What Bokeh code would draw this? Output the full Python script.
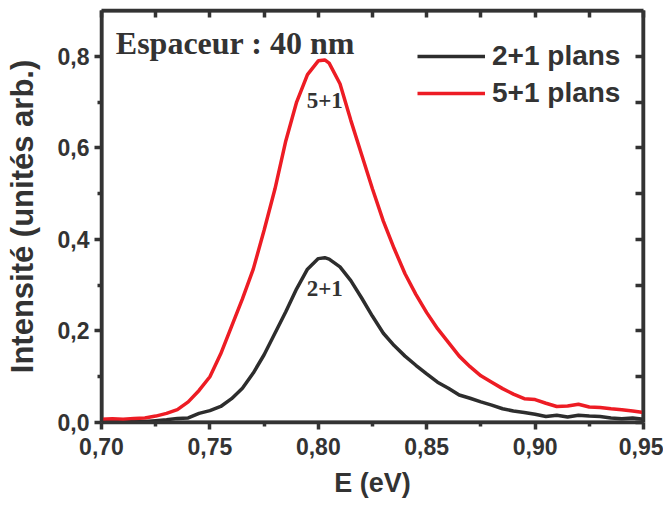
from bokeh.plotting import figure
from bokeh.models import (Range1d, LinearAxis, FixedTicker, CustomJSTickFormatter,
                          Legend, LegendItem, Label, ColumnDataSource)
from bokeh.core.properties import value
from bokeh.embed import file_html
from bokeh.resources import INLINE

# ---------------- data ----------------
energy = [0.700, 0.705, 0.710, 0.715, 0.720, 0.725, 0.730, 0.735, 0.740, 0.745,
          0.750, 0.755, 0.760, 0.765, 0.770, 0.775, 0.780, 0.785, 0.790, 0.795,
          0.800, 0.803, 0.805, 0.810, 0.815, 0.820, 0.825, 0.830, 0.835, 0.840,
          0.845, 0.850, 0.855, 0.860, 0.865, 0.870, 0.875, 0.880, 0.885, 0.890,
          0.895, 0.900, 0.905, 0.910, 0.915, 0.920, 0.925, 0.930, 0.935, 0.940,
          0.945, 0.950]

int_5p1 = [0.007, 0.008, 0.007, 0.009, 0.010, 0.014, 0.020, 0.028, 0.045, 0.070,
           0.100, 0.150, 0.210, 0.270, 0.335, 0.420, 0.510, 0.615, 0.700, 0.760,
           0.790, 0.792, 0.785, 0.740, 0.660, 0.585, 0.510, 0.440, 0.380, 0.325,
           0.280, 0.240, 0.205, 0.175, 0.145, 0.122, 0.102, 0.088, 0.074, 0.062,
           0.052, 0.050, 0.042, 0.035, 0.036, 0.040, 0.034, 0.033, 0.030, 0.028,
           0.025, 0.022]

int_2p1 = [0.002, 0.002, 0.001, 0.002, 0.002, 0.004, 0.006, 0.009, 0.010, 0.020,
           0.026, 0.035, 0.052, 0.075, 0.108, 0.148, 0.195, 0.242, 0.292, 0.335,
           0.358, 0.360, 0.357, 0.340, 0.310, 0.272, 0.232, 0.195, 0.168, 0.145,
           0.125, 0.106, 0.088, 0.075, 0.060, 0.053, 0.045, 0.038, 0.030, 0.025,
           0.022, 0.018, 0.013, 0.016, 0.012, 0.016, 0.014, 0.013, 0.010, 0.008,
           0.010, 0.007]

series_names = ["2+1 plans", "5+1 plans"]
peak_labels = ["2+1", "5+1"]
x_ticks = [0.70, 0.75, 0.80, 0.85, 0.90, 0.95]
x_minor = [0.725, 0.775, 0.825, 0.875, 0.925]
x_top_ticks = [0.70, 0.725, 0.75, 0.775, 0.80, 0.825, 0.85, 0.875, 0.90, 0.925, 0.95]
y_ticks = [0.0, 0.2, 0.4, 0.6, 0.8]
y_minor = [0.1, 0.3, 0.5, 0.7]
y_right_ticks = [0.0, 0.1, 0.2, 0.3, 0.4, 0.5, 0.6, 0.7, 0.8]
title_text = "Espaceur : 40 nm"

# ---------------- style ----------------
AX = "#333333"
RED = "#ed1c24"
BLK = "#2d2d2d"
SANS = "Liberation Sans"
SERIF = "Liberation Serif"

x_range = Range1d(0.70, 0.95)
y_range = Range1d(0.0, 0.9)

p = figure(output_backend="svg", toolbar_location=None,
           frame_width=542, frame_height=412,
           x_range=x_range, y_range=y_range,
           x_axis_location=None, y_axis_location=None,
           min_border_left=101, min_border_right=20, min_border_top=10,
           min_border_bottom=80)
p.grid.visible = False
p.outline_line_color = None
p.background_fill_color = "white"

fmt_x = CustomJSTickFormatter(code="return tick.toFixed(2).replace('.', ',');")
fmt_y = CustomJSTickFormatter(code="return tick.toFixed(1).replace('.', ',');")

def style_axis(ax):
    ax.axis_line_color = AX
    ax.axis_line_width = 3.5
    ax.major_tick_line_color = AX
    ax.major_tick_line_width = 3.5
    ax.minor_tick_line_color = AX
    ax.minor_tick_line_width = 3.5
    ax.major_label_text_color = AX
    ax.major_label_text_font = SANS
    ax.major_label_text_font_style = "bold"
    ax.axis_label_text_color = AX
    ax.axis_label_text_font = SANS
    ax.axis_label_text_font_style = "bold"

xb = LinearAxis(ticker=FixedTicker(ticks=x_ticks, minor_ticks=x_minor), formatter=fmt_x,
                axis_label="E (eV)")
style_axis(xb)
xb.major_tick_out = 7
xb.major_tick_in = 0
xb.minor_tick_out = 4
xb.minor_tick_in = 0
xb.major_label_text_font_size = "23px"
xb.major_label_standoff = 8
xb.axis_label_text_font_size = "27px"
xb.axis_label_standoff = 10
p.add_layout(xb, "below")

yl = LinearAxis(ticker=FixedTicker(ticks=y_ticks, minor_ticks=y_minor), formatter=fmt_y,
                axis_label="Intensité (unités arb.)")
style_axis(yl)
yl.major_tick_out = 7
yl.major_tick_in = 0
yl.minor_tick_out = 4
yl.minor_tick_in = 0
yl.major_label_text_font_size = "23px"
yl.major_label_standoff = 5
yl.axis_label_text_font_size = "31px"
yl.axis_label_standoff = 15
p.add_layout(yl, "left")

xt = LinearAxis(ticker=FixedTicker(ticks=x_top_ticks, minor_ticks=[]))
style_axis(xt)
xt.major_tick_in = 7
xt.major_tick_out = 0
xt.major_label_text_font_size = "0px"
xt.major_label_standoff = 0
xt.major_label_text_alpha = 0
p.add_layout(xt, "above")

yr = LinearAxis(ticker=FixedTicker(ticks=y_right_ticks, minor_ticks=[]))
style_axis(yr)
yr.major_tick_in = 8
yr.major_tick_out = 0
yr.major_label_text_font_size = "0px"
yr.major_label_standoff = 0
yr.major_label_text_alpha = 0
p.add_layout(yr, "right")

# frame box drawn on the data ranges (inner half of a thick stroke survives clipping)
p.quad(left=[x_range.start], right=[x_range.end], bottom=[y_range.start], top=[y_range.end],
       fill_color=None, line_color=AX, line_width=4)

src = ColumnDataSource(dict(e=energy, a=int_2p1, b=int_5p1))
r_black = p.line("e", "a", source=src, line_color=BLK, line_width=3.5)
r_red = p.line("e", "b", source=src, line_color=RED, line_width=3.5)

legend = Legend(items=[LegendItem(label=series_names[0], renderers=[r_black]),
                       LegendItem(label=series_names[1], renderers=[r_red])],
                location=(316, 313), orientation="vertical")
legend.label_text_font = SANS
legend.label_text_font_style = "bold"
legend.label_text_font_size = "28px"
legend.label_text_color = AX
legend.glyph_width = 68
legend.glyph_height = 30
legend.label_height = 30
legend.label_standoff = 7
legend.spacing = 5
legend.padding = 0
legend.margin = 0
legend.border_line_alpha = 0
legend.background_fill_alpha = 0
p.add_layout(legend)

# peak annotations, placed just below each curve's maximum
i_b = int_5p1.index(max(int_5p1))
i_a = int_2p1.index(max(int_2p1))
p.text(x=[energy[i_b]], y=[int_5p1[i_b]], text=[peak_labels[1]], y_offset=41,
       text_font=value(SERIF), text_font_style="bold", text_font_size="23px",
       text_align="center", text_baseline="middle", text_color=AX)
p.text(x=[energy[i_a]], y=[int_2p1[i_a]], text=[peak_labels[0]], y_offset=31,
       text_font=value(SERIF), text_font_style="bold", text_font_size="23px",
       text_align="center", text_baseline="middle", text_color=AX)

p.add_layout(Label(x=0.7066, y=0.83, text=title_text, text_font=SERIF,
                   text_font_style="bold", text_font_size="32px", text_color=AX,
                   text_baseline="alphabetic"))

open("out.html", "w").write(file_html(p, INLINE))
